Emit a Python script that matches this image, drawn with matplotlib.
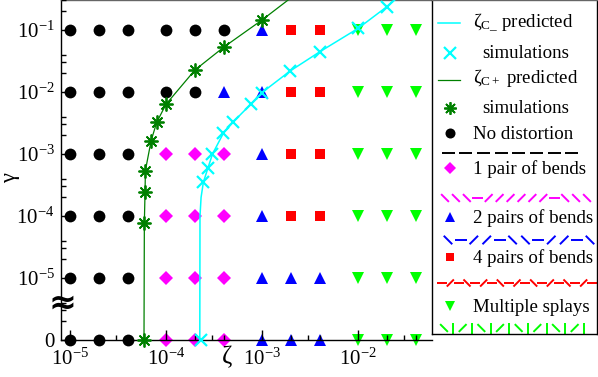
import numpy as np
import matplotlib as mpl
mpl.use('Agg')
from matplotlib import pyplot as plt
from matplotlib.ticker import FixedLocator, FixedFormatter, NullFormatter

plt.rcParams['font.family'] = ['Liberation Serif', 'DejaVu Serif']
plt.rcParams['mathtext.fontset'] = 'custom'
plt.rcParams['mathtext.rm'] = 'Liberation Serif'
plt.rcParams['mathtext.it'] = 'Liberation Serif:italic'

#------------------- Data ----------------------
zeta_cols = [1e-5, 2e-5, 4e-5, 1e-4, 2e-4, 4e-4, 1e-3, 2e-3, 4e-3, 1e-2, 2e-2, 4e-2]
gamma_rows = [1e-1, 1e-2, 1e-3, 1e-4, 1e-5, 0]
# N: no distortion, 1/2/4: pairs of bends, S: multiple splays
phase_rows = ['NNNNNN244SSS',
              'NNNNN2244SSS',
              'NNN111244SSS',
              'NNN111244SSS',
              'NNN111222SSS',
              'NNN111222SSS']

# zeta_C- : predicted line and simulations
zm_pred = [2.25e-4, 2.26e-4, 2.32e-4, 2.45e-4, 2.74e-4, 3.05e-4, 3.97e-4, 5.0e-4,
           7.6e-4, 1e-3, 1.96e-3, 4e-3, 1e-2, 2e-2, 2.5e-2]
gm_pred = [0, 1e-4, 2e-4, 3.5e-4, 6e-4, 1e-3, 2.18e-3, 3.28e-3,
           6.3e-3, 9.8e-3, 2.18e-2, 4.46e-2, 0.106, 0.238, 0.32]
zm_sim = [2.33e-4, 2.45e-4, 2.74e-4, 3.05e-4, 3.97e-4, 5.0e-4, 7.6e-4, 1e-3,
          1.96e-3, 4e-3, 1e-2, 2e-2]
gm_sim = [0, 3.5e-4, 6e-4, 1e-3, 2.18e-3, 3.28e-3, 6.3e-3, 9.8e-3,
          2.18e-2, 4.46e-2, 0.106, 0.238]

# zeta_C+ : predicted line and simulations
zp_pred = [5.9e-5, 5.95e-5, 6.05e-5, 6.1e-5, 7.0e-5, 8.0e-5, 1e-4, 2e-4, 4e-4, 1e-3, 2e-3]
gp_pred = [0, 7.8e-5, 2.4e-4, 5.4e-4, 1.64e-3, 3.24e-3, 6.34e-3, 2.26e-2, 5.3e-2, 0.145, 0.33]
zp_sim = [5.9e-5, 5.95e-5, 6.05e-5, 6.1e-5, 7.0e-5, 8.0e-5, 1e-4, 2e-4, 4e-4, 1e-3]
gp_sim = [0, 7.8e-5, 2.4e-4, 5.4e-4, 1.64e-3, 3.24e-3, 6.34e-3, 2.26e-2, 5.3e-2, 0.145]

x_ticks = [1e-5, 1e-4, 1e-3, 1e-2]
x_ticklabels = [r'$\mathregular{10^{-5}}$', r'$\mathregular{10^{-4}}$',
                r'$\mathregular{10^{-3}}$', r'$\mathregular{10^{-2}}$']
y_ticks = [1e-6, 1e-5, 1e-4, 1e-3, 1e-2, 1e-1]
y_ticklabels = ['0', r'$\mathregular{10^{-5}}$', r'$\mathregular{10^{-4}}$',
                r'$\mathregular{10^{-3}}$', r'$\mathregular{10^{-2}}$', r'$\mathregular{10^{-1}}$']

# legend director-field sketches
patterns = [('-' * 8, 'black'),
            ('\\\\\\-//////-\\\\\\', '#ff00ff'),
            ('\\-//-\\\\-//-\\', '#0000ff'),
            ('-/-\\-/-\\-/-\\-/-\\-/-', '#ff0000'),
            ('\\|/|\\|/|\\|/|\\|/|', '#00ff00')]

#------------------- Styles ----------------------
GAMMA0 = 1e-6   # where gamma = 0 is drawn on the log axis
FS = 13.6
CYAN, DGREEN = '#00ffff', '#008000'
styles = {'N': dict(marker='o', color='black', ms=8.5),
          '1': dict(marker='D', color='#ff00ff', ms=7.0),
          '2': dict(marker='^', color='#0000ff', ms=8.5),
          '4': dict(marker='s', color='#ff0000', ms=7.6),
          'S': dict(marker='v', color='#00ff00', ms=8.8)}
star = (8, 2, 0)


def g0(vals):
    return [GAMMA0 if v == 0 else v for v in vals]


fig = plt.figure(figsize=(5.98, 3.77), dpi=100)
ax = fig.add_axes([61/598, 37/377, 371/598, 340/377])
ax.set_xscale('log')
ax.set_yscale('log')
ax.set_xlim(8.06e-6, 0.059)
ax.set_ylim(1e-6, 0.305)
ax.set_axisbelow(False)

#--------------------- Phase grid ------------------------
for code, st in styles.items():
    xs, ys = [], []
    for g, row in zip(g0(gamma_rows), phase_rows):
        for z, c in zip(zeta_cols, row):
            if c == code:
                xs.append(z)
                ys.append(g)
    ax.plot(xs, ys, ls='none', marker=st['marker'], color=st['color'],
            ms=st['ms'], mew=0, clip_on=False, zorder=2)

#--------------------- Curves ------------------------
ax.plot(zm_pred, g0(gm_pred), color=CYAN, lw=1.1, zorder=3)
ax.plot(zm_sim, g0(gm_sim), ls='none', marker='x', color=CYAN, ms=9, mew=1.6,
        clip_on=False, zorder=3)
ax.plot(zp_pred, g0(gp_pred), color=DGREEN, lw=0.9, zorder=3)
ax.plot(zp_sim, g0(gp_sim), ls='none', marker=star, color=DGREEN, ms=10, mew=1.3,
        clip_on=False, zorder=3)

#--------------------- Axes ------------------------
ax.spines['right'].set_visible(False)
for s in ['left', 'bottom', 'top']:
    ax.spines[s].set_linewidth(1.0)
ax.spines['top'].set_color('0.4')
ax.xaxis.set_major_locator(FixedLocator(x_ticks))
ax.xaxis.set_major_formatter(FixedFormatter(x_ticklabels))
ax.yaxis.set_major_locator(FixedLocator(y_ticks))
ax.yaxis.set_major_formatter(FixedFormatter(y_ticklabels))
ax.xaxis.set_minor_locator(mpl.ticker.LogLocator(base=10, subs=(2, 3, 4), numticks=20))
ax.yaxis.set_minor_locator(mpl.ticker.LogLocator(base=10, subs=(2, 3, 4), numticks=20))
ax.xaxis.set_minor_formatter(NullFormatter())
ax.yaxis.set_minor_formatter(NullFormatter())
ax.tick_params(which='both', direction='in', top=False, right=False, labelsize=15)
ax.tick_params(which='major', length=7, width=1.0)
ax.tick_params(which='minor', length=3.6, width=1.0)
ax.tick_params(axis='x', which='major', pad=6)
ax.tick_params(axis='y', which='major', pad=4.5)

ax.set_xlabel('ζ', fontsize=18)
ax.xaxis.set_label_coords((227 - 61) / 371, -(357 - 340) / 340)
ax.xaxis.label.set_va('center')
ax.set_ylabel('γ', fontsize=16)
ax.yaxis.set_label_coords((11 - 61) / 371, (340 - 178) / 340)
ax.yaxis.label.set_va('center')

# axis break mark between 0 and 10^-5
ax.text(0.003, 4.0e-6, '≈', transform=ax.get_yaxis_transform(), ha='center', va='center',
        fontsize=24, fontweight='bold', family='DejaVu Sans', clip_on=False, zorder=5)

#--------------------- Legend ------------------------
lg = fig.add_axes([432/598, 43/377, 165/598, 334/377])
lg.set_xlim(0, 165)
lg.set_ylim(334, 0)
lg.set_xticks([])
lg.set_yticks([])
for s in lg.spines.values():
    s.set_linewidth(1.0)
lg.spines['top'].set_color('0.4')

MX, TX, TX2 = 18, 41, 50
lg.plot([6, 28], [23, 23], color=CYAN, lw=1.1)
lg.text(TX, 27, r'ζ$_{\mathregular{C\_}}$ predicted', fontsize=FS, va='baseline')
lg.plot(MX, 53, marker='x', color=CYAN, ms=8, mew=1.6)
lg.text(TX2, 58, 'simulations', fontsize=FS, va='baseline')
lg.plot([6, 28], [80, 80], color=DGREEN, lw=0.9)
lg.text(TX, 83, r'ζ$_{\mathregular{C+}}$ predicted', fontsize=FS, va='baseline')
lg.plot(MX, 108, marker=star, color=DGREEN, ms=9, mew=1.3)
lg.text(TX2, 113, 'simulations', fontsize=FS, va='baseline')

entries = [('N', 133, 'No distortion'), ('1', 168, '1 pair of bends'),
           ('2', 217, '2 pairs of bends'), ('4', 257, '4 pairs of bends'),
           ('S', 306, 'Multiple splays')]
for code, y, label in entries:
    st = styles[code]
    lg.plot(MX, y, marker=st['marker'], color=st['color'], ms=st['ms'] * 0.85, mew=0)
    lg.text(TX, y + 6, label, fontsize=FS, va='baseline')

angles = {'-': 0, '/': 45, '\\': 135, '|': 90}
pat_rows = [(153, 16, 140, 6.5), (198, 13, 155, 5.5), (240, 16, 158, 6.0),
            (283, 10, 160, 5.0), (328, 12, 152, 5.5)]
for (pat, col), (y, x0, x1, half) in zip(patterns, pat_rows):
    for ch, xc in zip(pat, np.linspace(x0, x1, len(pat))):
        a = np.deg2rad(angles[ch])
        dx, dy = half * np.cos(a), half * np.sin(a)
        lg.plot([xc - dx, xc + dx], [y + dy, y - dy], color=col, lw=1.4,
                solid_capstyle='butt', clip_on=False)

plt.savefig('out.png', dpi=100)
